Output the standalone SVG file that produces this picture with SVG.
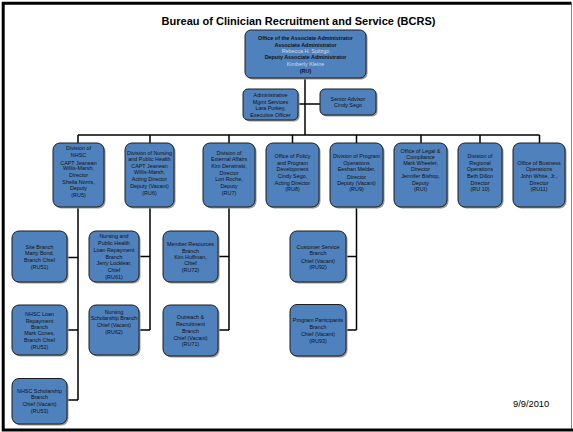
<svg xmlns="http://www.w3.org/2000/svg" width="573" height="432" viewBox="0 0 573 432">
<style>
.box{fill:#4F81BD;stroke:#1c1c1c;stroke-width:1}
.sh{fill:#9a9a9a}
.t{font-family:"Liberation Sans",Arial,sans-serif;font-size:5.4px;fill:#121212;text-anchor:middle}
.b{font-weight:bold}
.nm{fill:#d3dbee}
.ln{stroke:#000;stroke-width:1.5;fill:none}
</style>
<rect x="0" y="0" width="573" height="432" fill="#fff"/>
<path d="M571.5,3.5 V430" stroke="#888" stroke-width="1" fill="none"/>
<path d="M571.5,3.2 H3.2 V430 H573" stroke="#000" stroke-width="3" fill="none"/>
<text x="298.5" y="25" font-family="Liberation Sans, Arial, sans-serif" font-size="11" font-weight="bold" text-anchor="middle" fill="#000">Bureau of Clinician Recruitment and Service (BCRS)</text>
<text x="513" y="406.5" font-family="Liberation Sans, Arial, sans-serif" font-size="9.3" fill="#000">9/9/2010</text>

<g id="connectors" class="ln">
<path d="M305,78 V135"/>
<path d="M298,104 H320"/>
<path d="M78,135 H539.5"/>
<path d="M78,135 V143 M150,135 V143 M229,135 V143 M292.5,135 V143 M356.5,135 V143 M421,135 V143 M480,135 V143 M539.5,135 V143"/>
<path d="M78,207 V400 M67,257.5 H78 M67,330 H78 M67,400 H78"/>
<path d="M150,207 V330 M139,256.5 H150 M139,330 H150"/>
<path d="M229,207 V330 M218,256.5 H229 M218,330 H229"/>
<path d="M356.5,207 V330 M346,256.5 H356.5 M346,330 H356.5"/>
</g>

<g id="n-ru">
<rect class="sh" x="246.5" y="31.5" width="121" height="48" rx="6"/>
<rect class="box" x="245" y="30" width="121" height="48" rx="6"/>
<text class="t"><tspan class="b" x="305.5" y="39.7">Office of the Associate Administrator</tspan><tspan class="b" x="305.5" y="47">Associate Administrator</tspan><tspan class="nm" x="305.5" y="53">Rebecca H. Spitzgo</tspan><tspan class="b" x="305.5" y="59.3">Deputy Associate Administrator</tspan><tspan class="nm" x="305.5" y="66">Kimberly Kleine</tspan><tspan class="b" x="305.5" y="73">(RU)</tspan></text>
</g>

<g id="n-admin">
<rect class="sh" x="244.5" y="90.5" width="55" height="31" rx="5"/>
<rect class="box" x="243" y="89" width="55" height="31" rx="5"/>
<text class="t"><tspan x="270.5" y="97">Administrative</tspan><tspan x="270.5" y="103.7">Mgmt Services</tspan><tspan x="270.5" y="110.3">Lara Purkey,</tspan><tspan x="270.5" y="117">Executive Officer</tspan></text>
</g>

<g id="n-senior">
<rect class="sh" x="321.5" y="90.5" width="56" height="26" rx="5"/>
<rect class="box" x="320" y="89" width="56" height="26" rx="5"/>
<text class="t"><tspan x="348" y="101.3">Senior Advisor</tspan><tspan x="348" y="107">Cindy Sego</tspan></text>
</g>

<g id="n-ru5">
<rect class="sh" x="54.5" y="144.5" width="51" height="64" rx="7"/>
<rect class="box" x="53" y="143" width="51" height="64" rx="7"/>
<text class="t"><tspan x="78.5" y="150.3">Division of</tspan><tspan x="78.5" y="157">NHSC</tspan><tspan x="78.5" y="164.5">CAPT Jeanean</tspan><tspan x="78.5" y="170.3">Willis-Marsh,</tspan><tspan x="78.5" y="177">Director</tspan><tspan x="78.5" y="184.3">Sheila Norris,</tspan><tspan x="78.5" y="190.3">Deputy</tspan><tspan x="78.5" y="197">(RU5)</tspan></text>
</g>

<g id="n-ru6">
<rect class="sh" x="126.5" y="144.5" width="49" height="64" rx="7"/>
<rect class="box" x="125" y="143" width="49" height="64" rx="7"/>
<text class="t"><tspan x="149.5" y="155.3">Division of Nursing</tspan><tspan x="149.5" y="161.3">and Public Health</tspan><tspan x="149.5" y="167.7">CAPT Jeanean</tspan><tspan x="149.5" y="174.3">Willis-Marsh,</tspan><tspan x="149.5" y="180.7">Acting Director</tspan><tspan x="149.5" y="188">Deputy (Vacant)</tspan><tspan x="149.5" y="194.7">(RU6)</tspan></text>
</g>

<g id="n-ru7">
<rect class="sh" x="204.5" y="144.5" width="52" height="64" rx="7"/>
<rect class="box" x="203" y="143" width="52" height="64" rx="7"/>
<text class="t"><tspan x="229" y="155.3">Division of</tspan><tspan x="229" y="161.3">External Affairs</tspan><tspan x="229" y="168">Kim Derwinski,</tspan><tspan x="229" y="174.7">Director</tspan><tspan x="229" y="181.3">Lori Roche,</tspan><tspan x="229" y="188">Deputy</tspan><tspan x="229" y="194.7">(RU7)</tspan></text>
</g>

<g id="n-ru8">
<rect class="sh" x="267.5" y="144.5" width="53" height="64" rx="7"/>
<rect class="box" x="266" y="143" width="53" height="64" rx="7"/>
<text class="t"><tspan x="292.5" y="157.7">Office of Policy</tspan><tspan x="292.5" y="164.7">and Program</tspan><tspan x="292.5" y="171.3">Development</tspan><tspan x="292.5" y="178">Cindy Sego,</tspan><tspan x="292.5" y="184.7">Acting Director</tspan><tspan x="292.5" y="191.3">(RU8)</tspan></text>
</g>

<g id="n-ru9">
<rect class="sh" x="331.5" y="144.5" width="53" height="64" rx="7"/>
<rect class="box" x="330" y="143" width="53" height="64" rx="7"/>
<text class="t"><tspan x="356.5" y="157.7">Division of Program</tspan><tspan x="356.5" y="165.3">Operations</tspan><tspan x="356.5" y="171.3">Eeshan Melder,</tspan><tspan x="356.5" y="178.7">Director</tspan><tspan x="356.5" y="185.3">Deputy (Vacant)</tspan><tspan x="356.5" y="191.3">(RU9)</tspan></text>
</g>

<g id="n-rui">
<rect class="sh" x="395.5" y="144.5" width="53" height="64" rx="7"/>
<rect class="box" x="394" y="143" width="53" height="64" rx="7"/>
<text class="t"><tspan x="420.5" y="152.7">Office of Legal &amp;</tspan><tspan x="420.5" y="158.7">Compliance</tspan><tspan x="420.5" y="164.7">Mark Wheeler,</tspan><tspan x="420.5" y="171.3">Director</tspan><tspan x="420.5" y="178">Jennifer Bishop,</tspan><tspan x="420.5" y="184.7">Deputy</tspan><tspan x="420.5" y="191.3">(RUI)</tspan></text>
</g>

<g id="n-ru10">
<rect class="sh" x="459.5" y="144.5" width="44" height="64" rx="7"/>
<rect class="box" x="458" y="143" width="44" height="64" rx="7"/>
<text class="t"><tspan x="480" y="157.7">Division of</tspan><tspan x="480" y="164.7">Regional</tspan><tspan x="480" y="171.3">Operations</tspan><tspan x="480" y="178">Beth Dillon</tspan><tspan x="480" y="184.7">Director</tspan><tspan x="480" y="191.3">(RU 10)</tspan></text>
</g>

<g id="n-ru11">
<rect class="sh" x="514.5" y="144.5" width="52" height="64" rx="7"/>
<rect class="box" x="513" y="143" width="52" height="64" rx="7"/>
<text class="t"><tspan x="539" y="165.3">Office of Business</tspan><tspan x="539" y="171.3">Operations</tspan><tspan x="539" y="178">John White, Jr.,</tspan><tspan x="539" y="185.3">Director</tspan><tspan x="539" y="191.3">(RU11)</tspan></text>
</g>

<g id="n-ru51">
<rect class="sh" x="13.5" y="232.5" width="55" height="51" rx="7"/>
<rect class="box" x="12" y="231" width="55" height="51" rx="7"/>
<text class="t"><tspan x="39.5" y="248.7">Site Branch</tspan><tspan x="39.5" y="255.3">Marty Bond,</tspan><tspan x="39.5" y="262">Branch Chief</tspan><tspan x="39.5" y="268.7">(RU51)</tspan></text>
</g>

<g id="n-ru61">
<rect class="sh" x="90.5" y="232.5" width="50" height="51" rx="7"/>
<rect class="box" x="89" y="231" width="50" height="51" rx="7"/>
<text class="t"><tspan x="114" y="238">Nursing and</tspan><tspan x="114" y="245.3">Public Health</tspan><tspan x="114" y="252">Loan Repayment</tspan><tspan x="114" y="258.7">Branch</tspan><tspan x="114" y="265.3">Jerry Locklear,</tspan><tspan x="114" y="272">Chief</tspan><tspan x="114" y="279.3">(RU61)</tspan></text>
</g>

<g id="n-ru72">
<rect class="sh" x="164.5" y="232.5" width="55" height="51" rx="7"/>
<rect class="box" x="163" y="231" width="55" height="51" rx="7"/>
<text class="t"><tspan x="190.5" y="246.3">Member Resources</tspan><tspan x="190.5" y="253">Branch</tspan><tspan x="190.5" y="259.3">Kim Huffman,</tspan><tspan x="190.5" y="265.3">Chief</tspan><tspan x="190.5" y="272">(RU72)</tspan></text>
</g>

<g id="n-ru92">
<rect class="sh" x="291.5" y="232.5" width="56" height="51" rx="7"/>
<rect class="box" x="290" y="231" width="56" height="51" rx="7"/>
<text class="t"><tspan x="318" y="248.7">Customer Service</tspan><tspan x="318" y="255.3">Branch</tspan><tspan x="318" y="262.7">Chief (Vacant)</tspan><tspan x="318" y="268.7">(RU92)</tspan></text>
</g>

<g id="n-ru52">
<rect class="sh" x="13.5" y="306.5" width="55" height="50" rx="7"/>
<rect class="box" x="12" y="305" width="55" height="50" rx="7"/>
<text class="t"><tspan x="39.5" y="316">NHSC Loan</tspan><tspan x="39.5" y="322.7">Repayment</tspan><tspan x="39.5" y="328.7">Branch</tspan><tspan x="39.5" y="335.3">Mark Cones,</tspan><tspan x="39.5" y="342">Branch Chief</tspan><tspan x="39.5" y="348.7">(RU52)</tspan></text>
</g>

<g id="n-ru62">
<rect class="sh" x="90.5" y="306.5" width="50" height="50" rx="7"/>
<rect class="box" x="89" y="305" width="50" height="50" rx="7"/>
<text class="t"><tspan x="114" y="313.7">Nursing</tspan><tspan x="114" y="320.3">Scholarship Branch</tspan><tspan x="114" y="327">Chief (Vacant)</tspan><tspan x="114" y="334.3">(RU62)</tspan></text>
</g>

<g id="n-ru71">
<rect class="sh" x="164.5" y="306.5" width="55" height="51" rx="7"/>
<rect class="box" x="163" y="305" width="55" height="51" rx="7"/>
<text class="t"><tspan x="190.5" y="319.3">Outreach &amp;</tspan><tspan x="190.5" y="326">Recruitment</tspan><tspan x="190.5" y="332.7">Branch</tspan><tspan x="190.5" y="340.3">Chief (Vacant)</tspan><tspan x="190.5" y="346.3">(RU71)</tspan></text>
</g>

<g id="n-ru93">
<rect class="sh" x="291.5" y="306" width="56" height="51.5" rx="7"/>
<rect class="box" x="290" y="304.5" width="56" height="51.5" rx="7"/>
<text class="t"><tspan x="318" y="322">Program Participants</tspan><tspan x="318" y="329.3">Branch</tspan><tspan x="318" y="336">Chief (Vacant)</tspan><tspan x="318" y="342.7">(RU93)</tspan></text>
</g>

<g id="n-ru53">
<rect class="sh" x="13.5" y="380" width="55" height="45.5" rx="7"/>
<rect class="box" x="12" y="378.5" width="55" height="45.5" rx="7"/>
<text class="t"><tspan x="39.5" y="392.7">NHSC Scholarship</tspan><tspan x="39.5" y="399.3">Branch</tspan><tspan x="39.5" y="406">Chief (Vacant)</tspan><tspan x="39.5" y="412.7">(RU53)</tspan></text>
</g>
</svg>
